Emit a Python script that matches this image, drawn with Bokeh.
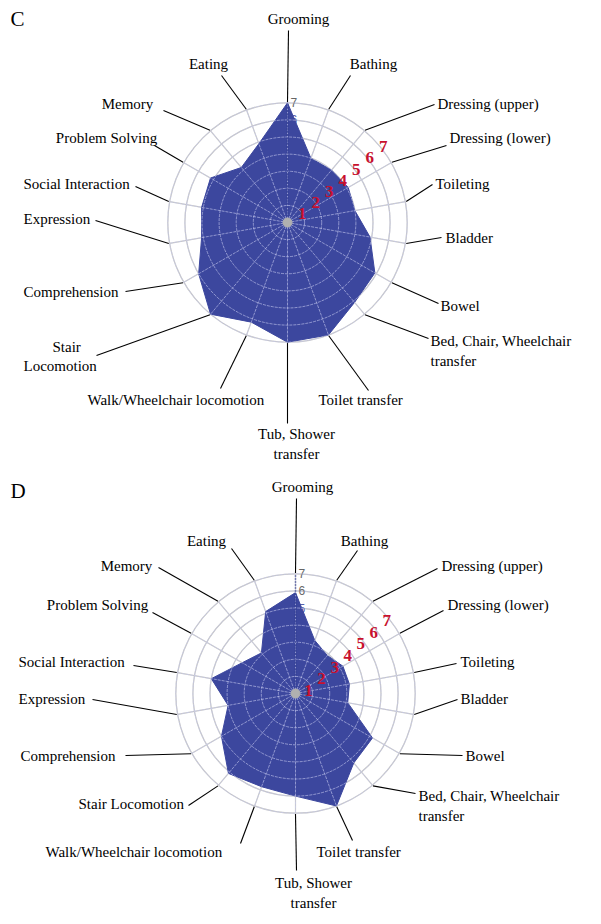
import numpy as np
from bokeh.plotting import figure
from bokeh.models import Range1d
from bokeh.core.properties import value
from bokeh.embed import file_html
from bokeh.resources import INLINE

# ---------------- data ----------------
categories = ["Grooming", "Bathing", "Dressing (upper)", "Dressing (lower)", "Toileting",
              "Bladder", "Bowel", "Bed, Chair, Wheelchair transfer", "Toilet transfer",
              "Tub, Shower transfer", "Walk/Wheelchair locomotion", "Stair Locomotion",
              "Comprehension", "Expression", "Social Interaction", "Problem Solving",
              "Memory", "Eating"]
values_c = [7.0, 4.0, 4.0, 4.1, 4.0, 4.9, 5.9, 6.1, 7.0, 7.0, 6.2, 7.0, 6.0, 5.1, 5.1, 5.2, 4.2, 4.9]
values_d = [5.9, 3.3, 2.9, 3.2, 3.2, 3.1, 5.2, 5.3, 7.0, 6.0, 5.8, 6.1, 5.0, 4.0, 5.0, 3.6, 3.1, 5.1]
scale_ticks = [1, 2, 3, 4, 5, 6, 7]
panel_titles = ["C", "D"]

# ---------------- layout (page pixels) ----------------
UNIT = 17.1
FONT = value("Liberation Serif")
W, H = 597, 920

# label layout: (category index, [lines], x, y_first_line, align, leader end)
layout_c = [
    (0, ["Grooming"], 298, 18, "center", (288, 30)),
    (17, ["Eating"], 208, 63, "center", (221, 75)),
    (1, ["Bathing"], 373, 63, "center", (350, 75)),
    (16, ["Memory"], 127, 103, "center", (163, 110)),
    (2, ["Dressing (upper)"], 437, 103, "left", (434, 104)),
    (15, ["Problem Solving"], 106, 137, "center", (154, 145)),
    (3, ["Dressing (lower)"], 449, 137, "left", (446, 145)),
    (14, ["Social Interaction"], 23, 183, "left", (135, 186)),
    (4, ["Toileting"], 435, 183, "left", (432, 184)),
    (13, ["Expression"], 23, 218, "left", (95, 220)),
    (5, ["Bladder"], 445, 237, "left", (441, 237)),
    (12, ["Comprehension"], 23, 291, "left", (125, 291)),
    (6, ["Bowel"], 440, 305, "left", (438, 303)),
    (7, ["Bed, Chair, Wheelchair", "transfer"], 430, 340, "left", (428, 338)),
    (11, ["Stair"], 52, 346, "left", (96, 355)),
    (11, ["Locomotion"], 23, 365, "left", (96, 355)),
    (10, ["Walk/Wheelchair locomotion"], 87, 399, "left", (220, 388)),
    (8, ["Toilet transfer"], 318, 399, "left", (368, 390)),
    (9, ["Tub, Shower", "transfer"], 296, 433, "center", (287, 423)),
]
layout_d = [
    (0, ["Grooming"], 302, 486, "center", (296, 498)),
    (17, ["Eating"], 206, 540, "center", (231, 548)),
    (1, ["Bathing"], 364, 540, "center", (357, 550)),
    (16, ["Memory"], 126, 565, "center", (158, 567)),
    (2, ["Dressing (upper)"], 441, 565, "left", (437, 568)),
    (15, ["Problem Solving"], 97, 604, "center", (152, 612)),
    (3, ["Dressing (lower)"], 447, 604, "left", (443, 610)),
    (14, ["Social Interaction"], 18, 661, "left", (133, 665)),
    (4, ["Toileting"], 460, 661, "left", (456, 663)),
    (13, ["Expression"], 18, 698, "left", (92, 699)),
    (5, ["Bladder"], 460, 698, "left", (457, 699)),
    (12, ["Comprehension"], 20, 755, "left", (125, 755)),
    (6, ["Bowel"], 465, 755, "left", (462, 755)),
    (7, ["Bed, Chair, Wheelchair", "transfer"], 418, 795, "left", (415, 793)),
    (11, ["Stair Locomotion"], 78, 803, "left", (188, 805)),
    (10, ["Walk/Wheelchair locomotion"], 45, 851, "left", (240, 843)),
    (8, ["Toilet transfer"], 316, 851, "left", (352, 840)),
    (9, ["Tub, Shower", "transfer"], 313, 882, "center", (296, 870)),
]
panels = [
    dict(center=(287, 222), values=values_c, layout=layout_c, title_pos=(10, 18),
         red=(1.2, 13.5, 2.5, -11.2)),
    dict(center=(295, 693), values=values_d, layout=layout_d, title_pos=(10, 490),
         red=(0.0, 13.05, 8.7, -11.67)),
]

p = figure(width=W, height=H, output_backend="svg", toolbar_location=None,
           x_range=Range1d(0, W), y_range=Range1d(H, 0),
           min_border=0, outline_line_color=None, background_fill_color="white",
           border_fill_color="white")
p.axis.visible = False
p.grid.visible = False

n = len(categories)
ang = np.deg2rad(np.arange(n) * 360.0 / n)
rmax = max(scale_ticks)

for title, panel in zip(panel_titles, panels):
    cx, cy = panel["center"]
    vals = np.array(panel["values"])

    def pt(r, a):
        return cx + r * UNIT * np.sin(a), cy - r * UNIT * np.cos(a)

    # grid under the polygon
    p.circle(x=[cx] * len(scale_ticks), y=[cy] * len(scale_ticks),
             radius=[t * UNIT for t in scale_ticks], fill_color=None,
             line_color="#c6c6c6", line_width=1.3)
    sx, sy = pt(rmax, ang)
    p.segment(x0=[cx] * n, y0=[cy] * n, x1=list(sx), y1=list(sy),
              line_color="#c6c6c6", line_width=1.2)

    # radial axis tick labels (first category axis)
    tick_inside = [t < vals[0] for t in scale_ticks]
    for inside, col in [(False, "#666666"), (True, "#5560aa")]:
        tt = [t for t, i in zip(scale_ticks, tick_inside) if i == inside]
        if tt:
            p.text(x=[cx + 3] * len(tt), y=[cy - t * UNIT for t in tt], text=[str(t) for t in tt],
                   text_font=value("Liberation Sans"), text_font_size="12px",
                   text_color=col, text_baseline="middle", text_align="left")

    # polygon
    px, py = pt(vals, ang)
    p.patch(x=list(px), y=list(py), fill_color="#3c479e", line_color="#3c479e",
            line_width=1)

    # grid over polygon (light dashed)
    p.circle(x=[cx] * len(scale_ticks), y=[cy] * len(scale_ticks),
             radius=[t * UNIT for t in scale_ticks], fill_color=None,
             line_color="#c8ccf0", line_width=1.0, line_alpha=0.6, line_dash="3 1")
    p.segment(x0=[cx] * n, y0=[cy] * n, x1=list(sx), y1=list(sy),
              line_color="#c8ccf0", line_width=1.0, line_alpha=0.6, line_dash="3 1")

    # dotted axis along the first category
    p.segment(x0=[cx], y0=[cy], x1=[cx], y1=[cy - rmax * UNIT],
              line_color="#1e2a80", line_width=1.5, line_dash="1 2")
    p.scatter(x=[cx], y=[cy], size=9, marker="circle", fill_color="#b0b0b0",
              line_color="#b0b0b0")

    # red scale numbers
    ax, bx, ay, by = panel["red"]
    p.text(x=[cx + ax + bx * t for t in scale_ticks], y=[cy + ay + by * t for t in scale_ticks],
           text=[str(t) for t in scale_ticks], text_font=FONT, text_font_size="17px",
           text_font_style="bold", text_color="#c8102e",
           text_align="center", text_baseline="middle")

    # leader lines and labels
    lx0, ly0, lx1, ly1 = [], [], [], []
    seen = set()
    for idx, lines, x, y, align, end in panel["layout"]:
        if idx in seen:
            continue
        seen.add(idx)
        a = ang[idx]
        x0, y0 = pt(rmax + 0.05, a)
        lx0.append(x0); ly0.append(y0); lx1.append(end[0]); ly1.append(end[1])
    p.segment(x0=lx0, y0=ly0, x1=lx1, y1=ly1, line_color="black", line_width=1.1)

    for al in ["left", "center"]:
        tx, ty, tt = [], [], []
        for idx, lines, x, y, align, end in panel["layout"]:
            if align != al:
                continue
            for k, line in enumerate(lines):
                tx.append(x); ty.append(y + 20 * k); tt.append(line)
        p.text(x=tx, y=ty, text=tt, text_font=FONT, text_font_size="15px",
               text_color="black", text_align=al, text_baseline="middle")

    tpx, tpy = panel["title_pos"]
    p.text(x=[tpx], y=[tpy], text=[title], text_font=FONT, text_font_size="21px",
           text_color="black", text_align="left", text_baseline="middle")

open("out.html", "w").write(file_html(p, INLINE))
